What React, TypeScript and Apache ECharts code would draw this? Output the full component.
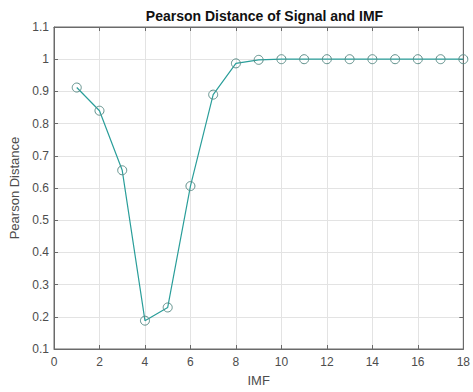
import React, { useEffect, useRef } from "react";
import * as echarts from "echarts";

const imfIndex: number[] = [1, 2, 3, 4, 5, 6, 7, 8, 9, 10, 11, 12, 13, 14, 15, 16, 17, 18];
const pearsonDistance: number[] = [
  0.912, 0.84, 0.655, 0.188, 0.229, 0.606, 0.89, 0.987, 0.998, 1, 1, 1, 1, 1, 1, 1, 1, 1,
];
const titleText = "Pearson Distance of Signal and IMF";
const xName = "IMF";
const yName = "Pearson Distance";

export default function App() {
  const ref = useRef<HTMLDivElement>(null);
  useEffect(() => {
    if (!ref.current) return;
    const chart = echarts.init(ref.current, null, { renderer: "svg" });
    const axisColor = "#6a6a6a";
    const labelColor = "#4d4d4d";
    const font = "Liberation Sans, Arial, sans-serif";
    const fmtY = (v: number) => String(+v.toFixed(1));
    chart.setOption({
      animation: false,
      backgroundColor: "#ffffff",
      title: {
        text: titleText,
        left: 259.5,
        textAlign: "center",
        top: 4,
        textStyle: { fontFamily: font, fontSize: 14, fontWeight: "bold", color: "#111" },
      },
      grid: {
        left: 54,
        top: 27,
        width: 411,
        height: 323,
        show: true,
        borderColor: axisColor,
        borderWidth: 1,
        backgroundColor: "#ffffff",
      },
      xAxis: [
        {
          type: "value",
          min: 0,
          max: 18,
          interval: 2,
          name: xName,
          nameLocation: "middle",
          nameGap: 25,
          nameTextStyle: { fontFamily: font, fontSize: 13, color: labelColor },
          axisLine: { show: true, onZero: false, lineStyle: { color: axisColor, width: 1 } },
          axisTick: { show: true, inside: true, length: 4, lineStyle: { color: axisColor } },
          axisLabel: { fontFamily: font, fontSize: 12, color: labelColor, margin: 7 },
          splitLine: { show: true, lineStyle: { color: "#e3e3e3", width: 1 } },
        },
        {
          type: "value",
          position: "top",
          min: 0,
          max: 18,
          interval: 2,
          axisLine: { show: true, onZero: false, lineStyle: { color: axisColor, width: 1 } },
          axisTick: { show: true, inside: true, length: 4, lineStyle: { color: axisColor } },
          axisLabel: { show: false },
          splitLine: { show: false },
        },
      ],
      yAxis: [
        {
          type: "value",
          min: 0.1,
          max: 1.1,
          interval: 0.1,
          name: yName,
          nameLocation: "middle",
          nameGap: 28,
          nameTextStyle: { fontFamily: font, fontSize: 13, color: labelColor },
          axisLine: { show: true, onZero: false, lineStyle: { color: axisColor, width: 1 } },
          axisTick: { show: true, inside: true, length: 4, lineStyle: { color: axisColor } },
          axisLabel: { fontFamily: font, fontSize: 12, color: labelColor, margin: 5, formatter: fmtY },
          splitLine: { show: true, lineStyle: { color: "#e3e3e3", width: 1 } },
        },
        {
          type: "value",
          position: "right",
          min: 0.1,
          max: 1.1,
          interval: 0.1,
          axisLine: { show: true, onZero: false, lineStyle: { color: axisColor, width: 1 } },
          axisTick: { show: true, inside: true, length: 4, lineStyle: { color: axisColor } },
          axisLabel: { show: false },
          splitLine: { show: false },
        },
      ],
      series: [
        {
          type: "line",
          xAxisIndex: 0,
          yAxisIndex: 0,
          data: imfIndex.map((x, i) => [x, pearsonDistance[i]]),
          symbol: "circle",
          symbolSize: 9,
          lineStyle: { color: "#2a9e9a", width: 1.2 },
          itemStyle: { color: "rgba(255,255,255,0)", borderColor: "#5e8f8a", borderWidth: 1 },
        },
      ],
    });
    return () => chart.dispose();
  }, []);
  return (
    <div
      ref={ref}
      style={{ position: "fixed", left: 0, top: 0, width: 473, height: 392, background: "#fff" }}
    />
  );
}
